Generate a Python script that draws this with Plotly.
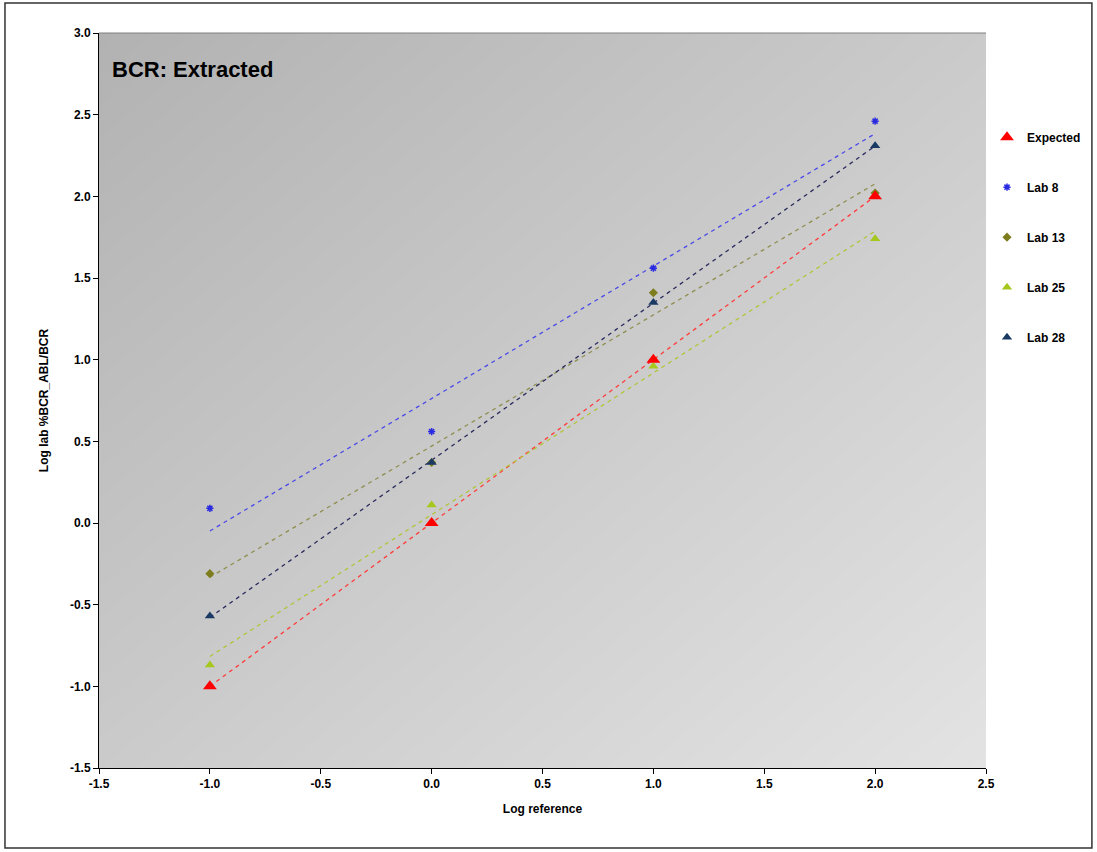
import numpy as np
import plotly.graph_objects as go

# Log reference levels (x) and log lab %BCR_ABL/BCR values per series
log_reference = [-1.0, 0.0, 1.0, 2.0]
expected = [-1.0, 0.0, 1.0, 2.0]
lab_8 = [0.09, 0.56, 1.56, 2.46]
lab_13 = [-0.31, 0.37, 1.41, 2.02]
lab_25 = [-0.87, 0.11, 0.96, 1.74]
lab_28 = [-0.57, 0.37, 1.35, 2.31]

y_ticks = [-1.5, -1.0, -0.5, 0.0, 0.5, 1.0, 1.5, 2.0, 2.5, 3.0]
x_ticks = [-1.5, -1.0, -0.5, 0.0, 0.5, 1.0, 1.5, 2.0, 2.5]

FONT = "Liberation Sans Narrow, Arial Narrow, Liberation Sans, Arial, sans-serif"

series = [
    # name, values, marker symbol, marker size, marker colour, trend colour
    ("Expected", expected, "triangle-up", 12, "#ff0000", "#ff3b3b"),
    ("Lab 8", lab_8, "asterisk-open", 6, "#2a2ae0", "#4a4ae8"),
    ("Lab 13", lab_13, "diamond", 7, "#7d7d1e", "#8f8f50"),
    ("Lab 25", lab_25, "triangle-up", 9, "#a6c81e", "#b3c43a"),
    ("Lab 28", lab_28, "triangle-up", 9, "#1a3a64", "#2a2a5e"),
]

fig = go.Figure()

# Diagonal grey gradient behind the plotting area
gx = [-1.5, 2.5]
gy = [-1.5, 3.0]
gz = [[0.5, 1.0], [0.0, 0.5]]
fig.add_trace(go.Heatmap(
    x=gx, y=gy, z=gz, zsmooth="best", showscale=False, hoverinfo="skip",
    colorscale=[[0, "#b2b2b2"], [1, "#e3e3e3"]], zmin=0, zmax=1,
))

# Linear trend lines (least squares) for each series
for name, vals, sym, size, col, tcol in series:
    slope, intercept = np.polyfit(log_reference, vals, 1)
    xs = np.array([min(log_reference), max(log_reference)])
    fig.add_trace(go.Scatter(
        x=xs, y=slope * xs + intercept, mode="lines",
        line=dict(color=tcol, width=1.3, dash="4px,4px"),
        showlegend=False, hoverinfo="skip",
    ))

# Data points; the lab series first, "Expected" last so it sits on top
draw_order = series[1:] + series[:1]
for name, vals, sym, size, col, tcol in draw_order:
    rank = [s[0] for s in series].index(name) + 1
    fig.add_trace(go.Scatter(
        x=log_reference, y=vals, mode="markers", name=name,
        marker=dict(symbol=sym, size=size, color=col,
                    line=dict(color=col, width=1.5 if "asterisk" in sym else 0)),
        legendgroup=name, legendrank=rank,
    ))

fig.update_layout(
    width=1097, height=852,
    margin=dict(l=99, r=110, t=33, b=84),
    paper_bgcolor="white",
    plot_bgcolor="#cccccc",
    font=dict(family=FONT, size=12, color="black"),
    showlegend=True,
    legend=dict(
        x=1.0, y=0.878, xanchor="left", yanchor="top",
        bgcolor="rgba(0,0,0,0)", tracegroupgap=31,
        font=dict(family=FONT, size=12, color="black", weight="bold"),
        itemwidth=30,
    ),
    xaxis=dict(
        range=[-1.5, 2.5], tickvals=x_ticks,
        ticktext=[f"{v:.1f}" for v in x_ticks],
        showgrid=False, zeroline=False,
        showline=True, linecolor="black", linewidth=1,
        ticks="outside", ticklen=5, tickcolor="black",
        tickfont=dict(family=FONT, size=12, weight="bold"),
        title=dict(text="Log reference", standoff=14,
                   font=dict(family=FONT, size=12, weight="bold")),
    ),
    yaxis=dict(
        range=[-1.5, 3.0], tickvals=y_ticks,
        ticktext=[f"{v:.1f}" for v in y_ticks],
        showgrid=True, gridcolor="black", gridwidth=1,
        zeroline=False,
        showline=True, linecolor="black", linewidth=1,
        ticks="outside", ticklen=5, tickcolor="black",
        tickfont=dict(family=FONT, size=12, weight="bold"),
        title=dict(text="Log lab %BCR_ABL/BCR", standoff=18,
                   font=dict(family=FONT, size=12, weight="bold")),
    ),
    annotations=[
        dict(text="BCR: Extracted", xref="paper", yref="paper",
             x=0.012, y=0.95, xanchor="left", yanchor="middle",
             showarrow=False,
             font=dict(family="Liberation Sans, Arial, sans-serif",
                       size=22, color="black", weight="bold")),
    ],
    shapes=[
        # outer frame around the whole chart
        dict(type="rect", xref="paper", yref="paper",
             x0=-0.106, x1=1.1194, y0=-0.1088, y1=1.0408,
             line=dict(color="#333333", width=1.5), layer="above"),
        # top edge of the plotting area
        dict(type="line", xref="paper", yref="paper",
             x0=0, x1=1, y0=1, y1=1,
             line=dict(color="#808080", width=1), layer="above"),
    ],
)

fig.write_html("out.html")
